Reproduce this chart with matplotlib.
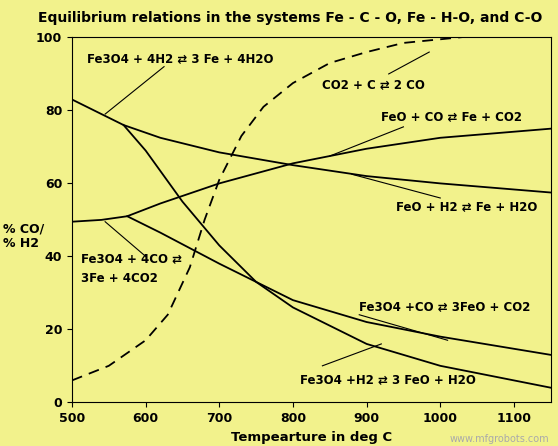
import numpy as np
import matplotlib.pyplot as plt

bg = '#f2f28c'

# FeO/Fe3O4 + H2 line (upper falling)
h2_fe_x = [500, 570, 620, 700, 800, 900, 1000, 1150]
h2_fe_y = [83, 76, 72.5, 68.5, 65, 62, 60, 57.5]
# Fe3O4 + CO then FeO + CO (rising)
co_fe_x = [500, 540, 575, 620, 700, 800, 900, 1000, 1150]
co_fe_y = [49.5, 50, 51, 54.5, 60, 65.5, 69.5, 72.5, 75]
# Fe3O4 + CO -> 3FeO + CO2
co_feo_x = [575, 620, 700, 800, 900, 1000, 1150]
co_feo_y = [51, 46.5, 38, 28, 22, 18, 13]
# Fe3O4 + H2 -> 3FeO + H2O
h2_feo_x = [570, 600, 650, 700, 750, 800, 900, 1000, 1150]
h2_feo_y = [76, 69, 55, 43, 33, 26, 16, 10, 4]
# Boudouard CO2 + C -> 2 CO
bd_x = [500, 550, 600, 630, 660, 680, 700, 730, 760, 800, 850, 900, 950, 1000, 1050]
bd_y = [6, 10, 17, 24, 37, 50, 61, 73, 81, 87.5, 93, 96, 98.5, 99.5, 100.5]

fig = plt.figure(figsize=(5.58, 4.46), dpi=100, facecolor=bg)
ax = fig.add_axes([0.129, 0.098, 0.858, 0.818], facecolor=bg)
lw = 1.3
ax.plot(h2_fe_x, h2_fe_y, 'k', lw=lw)
ax.plot(co_fe_x, co_fe_y, 'k', lw=lw)
ax.plot(co_feo_x, co_feo_y, 'k', lw=lw)
ax.plot(h2_feo_x, h2_feo_y, 'k', lw=lw)
ax.plot(bd_x, bd_y, 'k--', lw=lw, dashes=(6, 4))
ax.set_xlim(500, 1150)
ax.set_ylim(0, 100)
ax.set_xticks(range(500, 1101, 100))
ax.set_yticks(range(0, 101, 20))
ax.tick_params(labelsize=9)
for t in ax.get_xticklabels() + ax.get_yticklabels():
    t.set_fontweight('bold')
ax.set_xlabel('Tempearture in deg C', fontsize=9.5, fontweight='bold')
fig.text(0.005, 0.47, '% CO/\n% H2', fontsize=9, fontweight='bold', va='center')
fig.text(0.52, 0.975, 'Equilibrium relations in the systems Fe - C - O, Fe - H-O, and C-O',
         ha='center', va='top', fontsize=10, fontweight='bold')

fs = 8.5
fw = 'bold'
ar = '\u21c4'
ax.text(520, 93, f'Fe3O4 + 4H2 {ar} 3 Fe + 4H2O', fontsize=fs, fontweight=fw)
ax.plot([545, 625], [79, 92], 'k', lw=0.8)
ax.text(840, 86, f'CO2 + C {ar} 2 CO', fontsize=fs, fontweight=fw)
ax.plot([930, 985], [90, 96], 'k', lw=0.8)
ax.text(920, 77, f'FeO + CO {ar} Fe + CO2', fontsize=fs, fontweight=fw)
ax.plot([850, 950], [67.5, 75.5], 'k', lw=0.8)
ax.text(940, 52.5, f'FeO + H2 {ar} Fe + H2O', fontsize=fs, fontweight=fw)
ax.plot([880, 1000], [62.5, 56], 'k', lw=0.8)
ax.text(512, 33, f'Fe3O4 + 4CO {ar}\n3Fe + 4CO2', fontsize=fs, fontweight=fw, linespacing=1.6)
ax.plot([545, 600], [49.5, 40], 'k', lw=0.8)
ax.text(890, 25, f'Fe3O4 +CO {ar} 3FeO + CO2', fontsize=fs, fontweight=fw)
ax.plot([890, 1010], [24, 17], 'k', lw=0.8)
ax.text(810, 5, f'Fe3O4 +H2 {ar} 3 FeO + H2O', fontsize=fs, fontweight=fw)
ax.plot([840, 920], [10, 16], 'k', lw=0.8)
fig.text(0.985, 0.01, 'www.mfgrobots.com', ha='right', fontsize=7, color='#aaa')
fig.savefig('out.png', facecolor=bg)
